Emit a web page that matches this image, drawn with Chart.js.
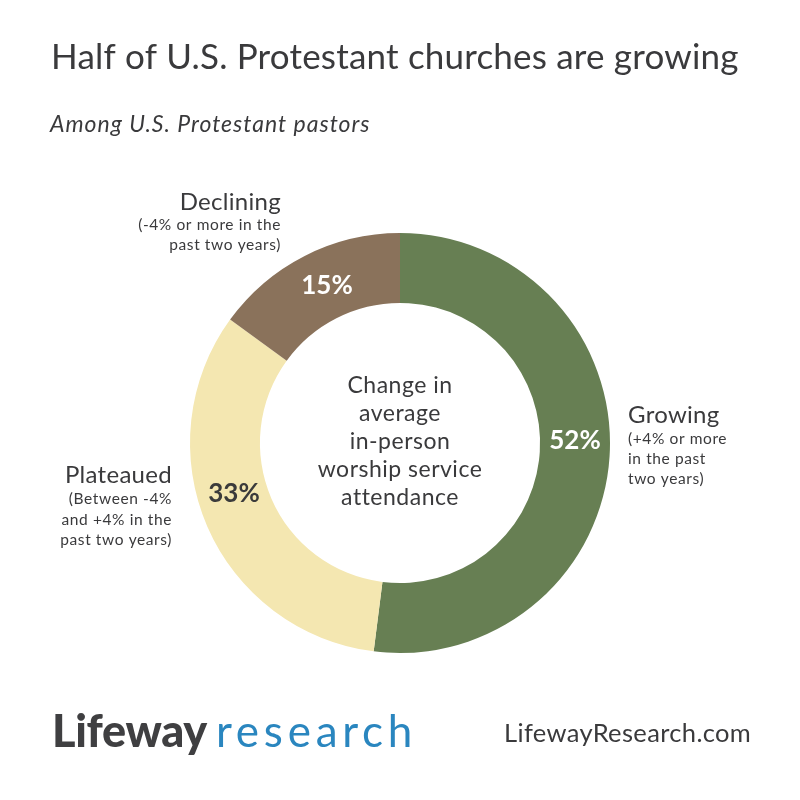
<!DOCTYPE html>
<html><head><meta charset="utf-8">
<style>html,body{margin:0;padding:0;background:#fff}#w{position:relative;width:800px;height:800px}</style>
<script src="https://cdn.jsdelivr.net/npm/chart.js@4/dist/chart.umd.js"></script>
</head><body><div id="w"><canvas id="c" width="800" height="800"></canvas></div>
<script>
const categories = ['Growing','Plateaued','Declining'];
const values = [52,33,15];
const sliceColors = ['#677f53','#f4e7b1','#8a725b'];
const labelColors = ['#ffffff','#3b3b3b','#ffffff'];
const titleText = 'Half of U.S. Protestant churches are growing';
const subtitleText = 'Among U.S. Protestant pastors';
const centerLines = ['Change in','average','in-person','worship service','attendance'];
const F = 'Lato, sans-serif';
const INK = '#3a3a3c';
function t(ctx,s,x,y,font,color,align,spacing){
  ctx.font=font;ctx.fillStyle=color;ctx.textAlign=align||'left';ctx.textBaseline='alphabetic';
  ctx.letterSpacing=spacing||'0px';ctx.fillText(s,x,y);ctx.letterSpacing='0px';
}
const textPlugin={id:'texts',afterDatasetsDraw(chart){
  const ctx=chart.ctx;ctx.save();
  t(ctx,titleText,51,69,'400 35px '+F,INK,'left','0.19px');
  t(ctx,subtitleText,50,132,'italic 400 23px '+F,INK,'left','1px');
  const pos=[[575,449],[234,502],[327,294]];
  values.forEach((v,i)=>t(ctx,v+'%',pos[i][0],pos[i][1],'700 26px '+F,labelColors[i],'center'));
  const yc=[393,421,449,477,505];
  centerLines.forEach((s,i)=>t(ctx,s,400,yc[i],'400 23px '+F,INK,'center','0.5px'));
  const H='400 24px '+F, S='400 15.5px '+F, sp='0.6px';
  t(ctx,categories[2],281,210,H,INK,'right','0.3px');
  t(ctx,'(-4% or more in the',281,230,S,INK,'right',sp);
  t(ctx,'past two years)',281,250,S,INK,'right',sp);
  t(ctx,categories[0],628,423,H,INK,'left','0.3px');
  t(ctx,'(+4% or more',628,444,S,INK,'left',sp);
  t(ctx,'in the past',628,464,S,INK,'left',sp);
  t(ctx,'two years)',628,484,S,INK,'left',sp);
  t(ctx,categories[1],172,483,H,INK,'right','0.3px');
  t(ctx,'(Between -4%',172,504,S,INK,'right',sp);
  t(ctx,'and +4% in the',172,525,S,INK,'right',sp);
  t(ctx,'past two years)',172,545,S,INK,'right',sp);
  t(ctx,'Lifeway',52,747,'900 45px '+F,'#3f3f41','left','-0.3px');
  t(ctx,'research',216,747,'400 44px '+F,'#2a86bf','left','4.75px');
  t(ctx,'LifewayResearch.com',504,742,'400 25.5px '+F,INK,'left','0.35px');
  ctx.restore();
}};
new Chart(document.getElementById('c'),{
  type:'doughnut',
  data:{labels:categories,datasets:[{data:values,backgroundColor:sliceColors,borderWidth:0}]},
  options:{responsive:false,animation:false,cutout:'66.7%',
    layout:{padding:{top:233,bottom:147,left:190,right:190}},
    plugins:{legend:{display:false},tooltip:{enabled:false},title:{display:false}}},
  plugins:[textPlugin]
});
</script></body></html>
